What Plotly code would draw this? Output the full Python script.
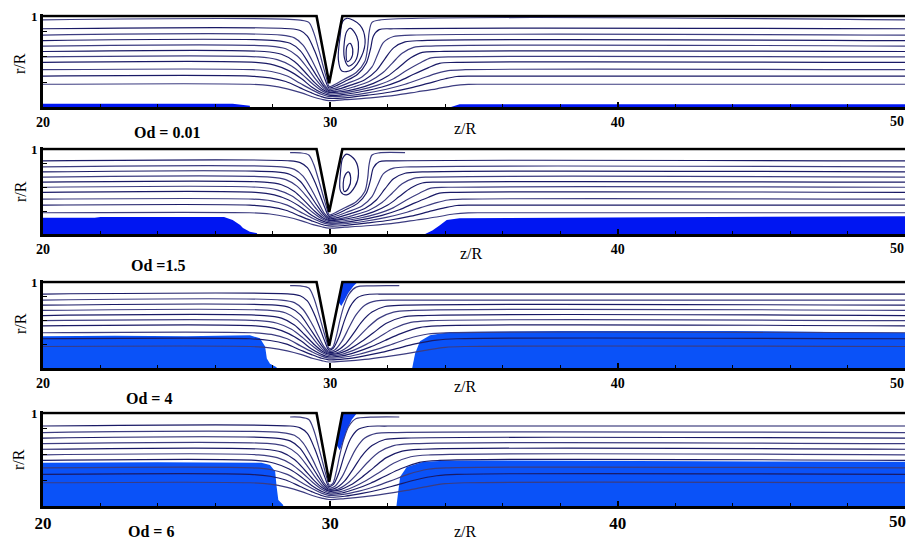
import plotly.graph_objects as go

W, H = 910, 539
X_LEFT, X_RIGHT = 43, 905
PANEL_TOP = [16, 149, 282, 413]
PANEL_BOT = [107, 234, 368, 506]
R_MAX = 1.02

OD_TEXT = ["Od = 0.01", "Od =1.5", "Od = 4", "Od = 6"]
OD_POS = [(167, 132), (158, 265), (149, 398), (151, 531)]
ZR_POS = [(466, 128), (471, 253), (466, 386), (466, 531)]
RR_POS = [(20, 64), (20, 192), (20, 324), (18, 460)]
TICK_SIZE = [14, 14, 14, 17]

X_TICKS = [20, 30, 40, 50]
X_TICK_TEXT = ["20", "30", "40", ""]
LAST_TICK_TEXT = "50"
LAST_TICK_X = 897
Y_TICKS = [0.27, 0.55, 0.835, 1.0]
Y_TICK_TEXT = ["", "", "", "1"]

# wall (top boundary with V-shaped baffle)
WALL_Z = [20, 29.52, 29.96, 30.42, 50]
WALL_R = [1.0, 1.0, 0.26, 1.0, 1.0]

# streamlines: left part (upstream of the baffle tip)
SL_LEFT_Z = [
    [20, 28.6, 28.95, 29.2, 29.45, 29.65, 29.82, 29.95],
    [20, 28.3, 28.75, 29.05, 29.35, 29.6, 29.8, 29.95],
    [20, 28.1, 28.6, 28.95, 29.25, 29.55, 29.78, 29.95],
    [20, 27.9, 28.45, 28.85, 29.2, 29.5, 29.75, 29.95],
    [20, 27.7, 28.3, 28.75, 29.1, 29.45, 29.72, 29.95],
    [20, 27.5, 28.15, 28.65, 29.05, 29.4, 29.7, 29.95],
    [20, 27.4, 28.05, 28.55, 29.0, 29.35, 29.68, 29.95],
    [20, 27.3, 27.95, 28.5, 28.95, 29.35, 29.68, 29.95],
    [20, 27.2, 27.9, 28.45, 28.95, 29.35, 29.68, 29.95],
    [20, 27.2, 27.9, 28.5, 29.0, 29.4, 29.7, 29.95],
]
SL_LEFT_R = [
    [.86, .86, .84, .78, .62, .45, .30, .21],
    [.79, .79, .76, .68, .52, .36, .24, .195],
    [.73, .73, .70, .62, .48, .33, .225, .18],
    [.67, .67, .64, .56, .43, .30, .21, .17],
    [.61, .61, .58, .50, .39, .27, .195, .16],
    [.55, .55, .52, .45, .35, .25, .18, .145],
    [.49, .49, .46, .40, .31, .22, .16, .13],
    [.41, .41, .39, .34, .26, .19, .14, .115],
    [.34, .34, .32, .28, .21, .155, .115, .095],
    [.25, .25, .235, .20, .155, .11, .085, .07],
]
# right part, with recirculation vortex (Od = 0.01, 1.5)
SL_RV_Z = [
    [30.1, 30.5, 30.95, 31.25, 31.4, 31.5, 31.7, 32.2, 50],
    [30.15, 30.6, 31.1, 31.45, 31.65, 31.85, 32.2, 32.8, 50],
    [30.2, 30.7, 31.2, 31.6, 31.9, 32.2, 32.6, 33.2, 50],
    [30.25, 30.8, 31.35, 31.8, 32.15, 32.5, 32.9, 33.5, 50],
    [30.3, 30.9, 31.5, 32.0, 32.4, 32.8, 33.2, 33.8, 50],
    [30.35, 31.0, 31.65, 32.2, 32.65, 33.1, 33.5, 34.1, 50],
    [30.4, 31.1, 31.8, 32.4, 32.9, 33.4, 33.8, 34.4, 50],
    [30.45, 31.2, 31.95, 32.6, 33.15, 33.7, 34.1, 34.7, 50],
    [30.5, 31.3, 32.1, 32.8, 33.4, 34.0, 34.4, 35.0, 50],
    [30.5, 31.4, 32.3, 33.0, 33.7, 34.3, 34.8, 35.3, 50],
]
SL_RV_R = [
    [.22, .28, .36, .48, .64, .78, .85, .86, .86],
    [.205, .26, .33, .44, .58, .71, .775, .79, .79],
    [.19, .24, .30, .40, .53, .65, .715, .73, .73],
    [.175, .22, .28, .37, .48, .59, .655, .67, .67],
    [.165, .20, .26, .34, .44, .54, .60, .61, .61],
    [.15, .185, .24, .31, .40, .48, .54, .55, .55],
    [.135, .17, .22, .285, .36, .43, .48, .49, .49],
    [.12, .15, .195, .25, .31, .37, .40, .41, .41],
    [.10, .13, .165, .21, .26, .31, .335, .34, .34],
    [.08, .10, .13, .165, .20, .235, .248, .25, .25],
]
# right part, no vortex (Od = 4, 6)
SL_RN_Z = [
    [30.1, 30.3, 30.5, 30.7, 30.95, 31.3, 32.0, 50],
    [30.15, 30.4, 30.65, 30.9, 31.2, 31.6, 32.3, 50],
    [30.2, 30.5, 30.8, 31.1, 31.45, 31.9, 32.6, 50],
    [30.25, 30.6, 30.95, 31.3, 31.7, 32.2, 32.9, 50],
    [30.3, 30.7, 31.1, 31.5, 31.95, 32.5, 33.2, 50],
    [30.35, 30.8, 31.25, 31.7, 32.2, 32.8, 33.5, 50],
    [30.4, 30.9, 31.4, 31.9, 32.45, 33.1, 33.8, 50],
    [30.45, 31.0, 31.55, 32.1, 32.7, 33.4, 34.1, 50],
    [30.5, 31.1, 31.7, 32.3, 32.95, 33.7, 34.4, 50],
    [30.5, 31.2, 31.9, 32.6, 33.3, 34.0, 34.7, 50],
]
SL_RN_R = [
    [.23, .36, .56, .72, .82, .855, .86, .86],
    [.21, .31, .47, .62, .73, .78, .79, .79],
    [.195, .27, .40, .54, .65, .715, .73, .73],
    [.18, .245, .35, .47, .58, .65, .67, .67],
    [.17, .225, .31, .41, .52, .59, .61, .61],
    [.155, .205, .275, .36, .46, .53, .55, .55],
    [.14, .185, .245, .32, .40, .47, .49, .49],
    [.125, .16, .21, .27, .34, .395, .41, .41],
    [.105, .135, .175, .225, .28, .325, .34, .34],
    [.08, .10, .13, .165, .205, .24, .25, .25],
]
RIGHT_STYLE = ["vortex", "vortex", "open", "open"]

# near-wall streamline
NW_LEVEL = 0.957
NW_START_Z = [20, 28.6, 28.6, 28.6]
NW_END_Z = [50, 32.6, 32.4, 32.4]
NW_LEFT_Z = [28.95, 29.25, 29.42, 29.58, 29.75, 29.88, 29.96]
NW_LEFT_R = [.955, .93, .82, .65, .45, .30, .225]
NW_RV_Z = [30.08, 30.45, 30.9, 31.2, 31.3, 31.35, 31.45, 31.7]
NW_RV_R = [.235, .30, .38, .50, .66, .82, .93, .955]
NW_RN_Z = [30.08, 30.2, 30.33, 30.47, 30.65, 30.9, 31.4]
NW_RN_R = [.24, .36, .55, .72, .86, .94, .955]

# vortex loops
VORTEX_Z = [
    [[30.57, 31.03, 31.21, 31.09, 30.74, 30.40, 30.28, 30.34, 30.43, 30.57],
     [30.69, 30.92, 30.98, 30.86, 30.63, 30.49, 30.49, 30.57, 30.69],
     [30.69, 30.78, 30.72, 30.59, 30.55, 30.59, 30.69]],
    [[30.57, 30.86, 30.98, 30.86, 30.57, 30.36, 30.36, 30.43, 30.57],
     [30.63, 30.71, 30.63, 30.49, 30.45, 30.51, 30.63]],
    [], [],
]
VORTEX_R = [
    [[.975, .90, .74, .56, .41, .395, .52, .775, .94, .975],
     [.866, .775, .65, .50, .45, .54, .72, .83, .866],
     [.70, .63, .53, .50, .595, .675, .70]],
    [[.94, .87, .71, .56, .46, .50, .75, .89, .94],
     [.73, .655, .54, .50, .60, .69, .73]],
    [], [],
]

# blue (second phase) regions
BLUE_COLORS = ["#0016f2", "#0016f2", "#0a52f8", "#0a52f8"]
BLUE_LEFT_Z = [
    [20, 20, 26.6, 27.2, 27.2],
    [20, 20, 21.8, 22.0, 26.3, 26.6, 26.86, 26.96, 27.2, 27.45, 27.45],
    [20, 20, 22.5, 25.0, 27.2, 27.55, 27.73, 27.79, 27.9, 28.13, 28.13],
    [20, 20, 24.0, 27.6, 27.9, 28.08, 28.13, 28.19, 28.36, 28.36],
]
BLUE_LEFT_R = [
    [0, .035, .035, .015, 0],
    [0, .19, .19, .20, .20, .165, .105, .07, .027, .01, 0],
    [0, .37, .375, .37, .38, .345, .25, .11, .05, .01, 0],
    [0, .465, .47, .465, .44, .37, .21, .065, .01, 0],
]
BLUE_RIGHT_Z = [
    [34.2, 34.5, 50, 50],
    [33.3, 33.55, 33.8, 34.05, 34.5, 40, 50, 50],
    [32.85, 32.95, 33.12, 33.47, 34.17, 38, 44, 48, 50, 50],
    [32.3, 32.37, 32.43, 32.66, 33.24, 34.17, 40, 46, 50, 50],
]
BLUE_RIGHT_R = [
    [0, .03, .03, 0],
    [0, .04, .10, .165, .185, .195, .21, 0],
    [0, .17, .31, .38, .42, .43, .43, .42, .41, 0],
    [0, .17, .315, .42, .475, .49, .485, .48, .475, 0],
]
WEDGE_Z = [None, None,
           [30.42, 30.95, 30.8, 30.62, 30.48, 30.38, 30.28],
           [30.42, 30.93, 30.75, 30.58, 30.45, 30.33, 30.21]]
WEDGE_R = [None, None,
           [1.0, 1.0, .95, .87, .78, .72, .77],
           [1.0, 1.0, .93, .82, .70, .60, .66]]
WEDGE_COLOR = "#0a3ef0"

LINE_DARK = "#1a1a66"
LINE_LIGHT = "#3c3c80"
SERIF = "Liberation Serif"

fig = go.Figure()
annotations = []

for p in range(4):
    xa = "x" if p == 0 else f"x{p+1}"
    ya = "y" if p == 0 else f"y{p+1}"

    def add(z, r, **kw):
        fig.add_trace(go.Scatter(x=z, y=r, xaxis=xa, yaxis=ya, mode="lines",
                                 hoverinfo="skip", showlegend=False, **kw))

    # blue regions
    add(BLUE_LEFT_Z[p], BLUE_LEFT_R[p], fill="toself", fillcolor=BLUE_COLORS[p],
        line=dict(width=0, color=BLUE_COLORS[p]))
    add(BLUE_RIGHT_Z[p], BLUE_RIGHT_R[p], fill="toself", fillcolor=BLUE_COLORS[p],
        line=dict(width=0, color=BLUE_COLORS[p]))
    if WEDGE_Z[p] is not None:
        add(WEDGE_Z[p], WEDGE_R[p], fill="toself", fillcolor=WEDGE_COLOR,
            line=dict(width=0, color=WEDGE_COLOR))

    # streamlines
    for i in range(len(SL_LEFT_Z)):
        if RIGHT_STYLE[p] == "vortex":
            z = SL_LEFT_Z[i] + SL_RV_Z[i]
            r = SL_LEFT_R[i] + SL_RV_R[i]
        else:
            z = SL_LEFT_Z[i] + SL_RN_Z[i]
            r = SL_LEFT_R[i] + SL_RN_R[i]
        col = LINE_DARK if i % 2 == 0 else LINE_LIGHT
        add(z, r, line=dict(color=col, width=1.2, shape="spline", smoothing=0.9))

    # near-wall streamline
    if RIGHT_STYLE[p] == "vortex":
        rz, rr = NW_RV_Z, NW_RV_R
    else:
        rz, rr = NW_RN_Z, NW_RN_R
    z = [NW_START_Z[p]] + NW_LEFT_Z + rz + [NW_END_Z[p]]
    r = [NW_LEVEL] + NW_LEFT_R + rr + [NW_LEVEL]
    add(z, r, line=dict(color=LINE_LIGHT, width=1.2, shape="spline", smoothing=0.9))

    # vortex loops
    for vz, vr in zip(VORTEX_Z[p], VORTEX_R[p]):
        add(vz, vr, line=dict(color=LINE_DARK, width=1.2, shape="spline", smoothing=1.0))

    # wall
    add(WALL_Z, WALL_R, line=dict(color="black", width=2.6))

    # axes
    top, bot = PANEL_TOP[p], PANEL_BOT[p]
    h = bot - top
    dom_top = top - (R_MAX - 1.0) * h
    ydom = [1 - bot / H, 1 - dom_top / H]
    xdom = [X_LEFT / W, X_RIGHT / W]
    tf = dict(family=SERIF, size=TICK_SIZE[p], color="black", weight="bold")
    fig.update_layout(**{
        ("xaxis" if p == 0 else f"xaxis{p+1}"): dict(
            domain=xdom, range=[20, 50], anchor=ya, showline=True, linewidth=3,
            linecolor="black", ticks="inside", tickvals=X_TICKS,
            ticktext=X_TICK_TEXT, ticklen=5,
            tickwidth=2, tickcolor="black", tickfont=tf, showgrid=False,
            zeroline=False, fixedrange=True, automargin=False,
            ticklabeloverflow="allow",
            minor=dict(dtick=2, tick0=20, ticks="inside", ticklen=3, tickwidth=1,
                       tickcolor="black", showgrid=False)),
        ("yaxis" if p == 0 else f"yaxis{p+1}"): dict(
            domain=ydom, range=[0, R_MAX], anchor=xa, showline=True, linewidth=3,
            linecolor="black", ticks="inside", tickvals=Y_TICKS,
            ticktext=Y_TICK_TEXT, ticklen=4, tickwidth=1, tickcolor="black",
            tickfont=dict(family=SERIF, size=13, color="black", weight="bold"),
            showgrid=False, zeroline=False, fixedrange=True, automargin=False,
            ticklabeloverflow="allow"),
    })

    # last x tick label, pulled inside the page edge
    annotations.append(dict(text=LAST_TICK_TEXT, x=LAST_TICK_X / W,
                            y=1 - (bot + 15) / H, xref="paper", yref="paper",
                            showarrow=False, xanchor="center", yanchor="middle",
                            font=tf))

    ox, oy = OD_POS[p]
    annotations.append(dict(text=OD_TEXT[p], x=ox / W, y=1 - oy / H, xref="paper",
                            yref="paper", showarrow=False, xanchor="center",
                            yanchor="middle",
                            font=dict(family=SERIF, size=16, color="black",
                                      weight="bold")))
    zx, zy = ZR_POS[p]
    annotations.append(dict(text="z/R", x=zx / W, y=1 - zy / H, xref="paper",
                            yref="paper", showarrow=False, xanchor="center",
                            yanchor="middle",
                            font=dict(family=SERIF, size=16, color="black")))
    rx, ry = RR_POS[p]
    annotations.append(dict(text="r/R", x=rx / W, y=1 - ry / H, xref="paper",
                            yref="paper", showarrow=False, xanchor="center",
                            yanchor="middle", textangle=-90,
                            font=dict(family=SERIF, size=16, color="black")))

fig.update_layout(width=W, height=H, margin=dict(l=0, r=0, t=0, b=0, pad=0),
                  template="none",
                  paper_bgcolor="white", plot_bgcolor="white",
                  annotations=annotations, showlegend=False)

fig.write_html("out.html",
               config={"displayModeBar": False, "staticPlot": True},
               post_script="document.body.style.margin='0px';"
                           "document.body.style.overflow='hidden';")
